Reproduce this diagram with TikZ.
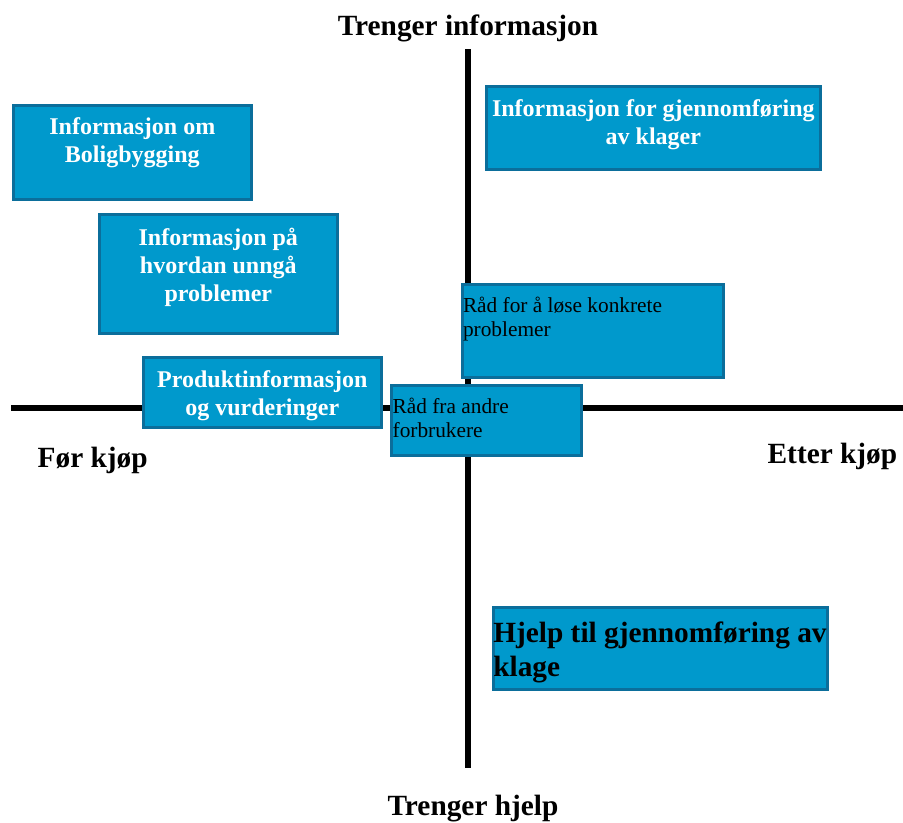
\documentclass[tikz,border=0pt]{standalone}
\usepackage{fontspec}
\setmainfont{Liberation Serif}
\usetikzlibrary{positioning}
\definecolor{boxfill}{HTML}{0099CC}
\definecolor{boxline}{HTML}{0B6E9B}
\tikzset{
every picture/.style={
line width=1pt
}}

\begin{document}
\begin{tikzpicture}[x=0.75pt, y=-0.75pt,
axis/.style = {line width=4.5pt},
title/.style = {font=\fontsize{22}{26}\selectfont\bfseries, inner sep=0pt},
box/.style = {rectangle, draw=boxline, fill=boxfill, line width=2pt, anchor=north west, inner sep=0pt},
boldtext/.style = {text=white, font=\fontsize{18}{21}\selectfont\bfseries, align=center, inner sep=0pt},
plaintext/.style = {font=\fontsize{16}{18}\selectfont, align=left, inner sep=0pt},
bigtext/.style = {font=\fontsize{22}{25.5}\selectfont\bfseries, align=left, inner sep=0pt}]
\useasboundingbox (0,0) rectangle (903,822);

% axes
\coordinate (top) at (468,49);
\coordinate (bottom) at (468,768);
\coordinate (left) at (11,408);
\coordinate (right) at (903,408);
\draw[axis] (top) -- (bottom);
\draw[axis] (left) -- (right);

\node[title, anchor=base] at (468,35) (need info) {Trenger informasjon};
\node[title, anchor=base] at (473,815) (need help) {Trenger hjelp};
\node[title, anchor=base west] at (37,467) (before) {Før kjøp};
\node[title, anchor=base west] at (767,463) (after) {Etter kjøp};

% boxes
\node[box, minimum width=238*0.75pt, minimum height=94*0.75pt] at (12,104) (housing) {};
\node[boldtext, below=10pt of housing.north] (housing text) {Informasjon om\\Boligbygging};

\node[box, minimum width=238*0.75pt, minimum height=119*0.75pt] at (98,213) (avoid) {};
\node[boldtext, below=10.5pt of avoid.north] (avoid text) {Informasjon på\\hvordan unngå\\problemer};

\node[box, minimum width=238*0.75pt, minimum height=70*0.75pt] at (142,356) (product) {};
\node[boldtext, below=10.5pt of product.north] (product text) {Produktinformasjon\\og vurderinger};

\node[box, minimum width=334*0.75pt, minimum height=83*0.75pt] at (485,85) (complaint) {};
\node[boldtext, below=10.5pt of complaint.north] (complaint text) {Informasjon for gjennomføring\\av klager};

\node[box, minimum width=261*0.75pt, minimum height=93*0.75pt] at (461,283) (advice) {};
\node[plaintext, below right=10pt and 1pt of advice.north west] (advice text) {Råd for å løse konkrete\\problemer};

\node[box, minimum width=190*0.75pt, minimum height=70*0.75pt] at (390,384) (others) {};
\node[plaintext, below right=10pt and 1.5pt of others.north west] (others text) {Råd fra andre\\forbrukere};

\node[box, minimum width=334*0.75pt, minimum height=82*0.75pt] at (492,606) (help) {};
\node[bigtext, below right=11.5pt and 0.5pt of help.north west] (help text) {Hjelp til gjennomføring av\\klage};
\end{tikzpicture}
\end{document}
